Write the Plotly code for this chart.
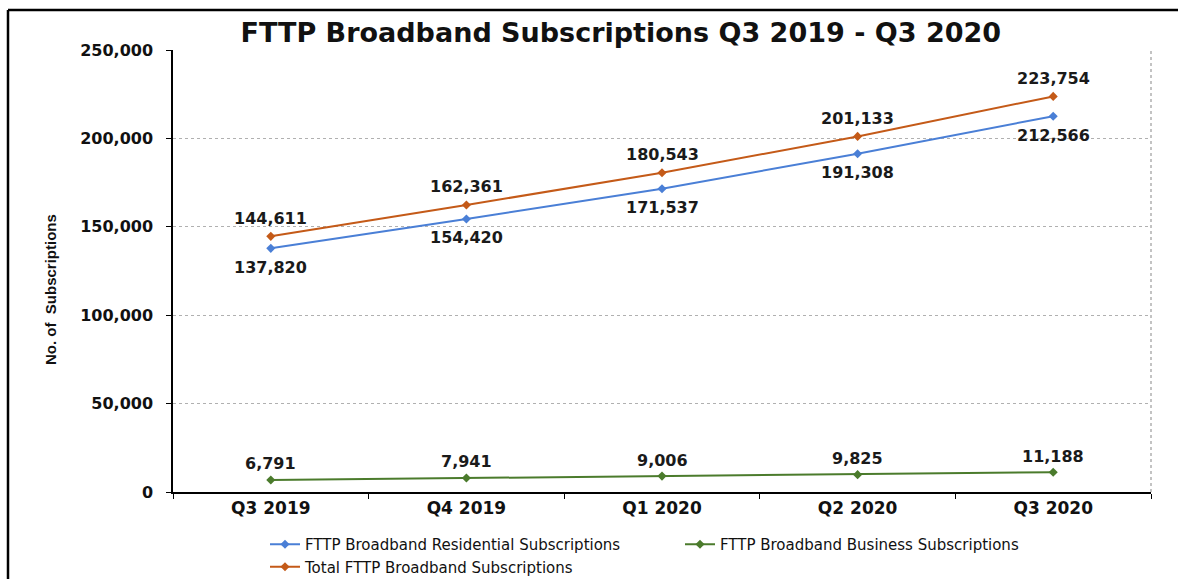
import plotly.graph_objects as go

quarters = ["Q3 2019", "Q4 2019", "Q1 2020", "Q2 2020", "Q3 2020"]
residential = [137820, 154420, 171537, 191308, 212566]
business = [6791, 7941, 9006, 9825, 11188]
total = [144611, 162361, 180543, 201133, 223754]
y_ticks = [0, 50000, 100000, 150000, 200000, 250000]

BLUE = "#4A7FD6"
GREEN = "#4B7B2C"
ORANGE = "#C45A18"
LBL_FONT = dict(family="DejaVu Sans", size=16, color="#1a1a1a", weight="bold")

fig = go.Figure()
series = [
    ("FTTP Broadband Residential Subscriptions", residential, BLUE, -19),
    ("FTTP Broadband Business Subscriptions", business, GREEN, 16),
    ("Total FTTP Broadband Subscriptions", total, ORANGE, 18),
]
annotations = []
for name, vals, col, shift in series:
    fig.add_trace(go.Scatter(
        x=quarters, y=vals, name=name, mode="lines+markers",
        line=dict(color=col, width=2),
        marker=dict(symbol="diamond", size=7, color=col)))
    for q, v in zip(quarters, vals):
        annotations.append(dict(x=q, y=v, text=f"{v:,}", showarrow=False,
                                xref="x", yref="y", yshift=shift,
                                xanchor="center", yanchor="middle", font=LBL_FONT))

annotations.append(dict(text="<b>No. of  Subscriptions</b>", textangle=-90,
                        xref="paper", yref="paper", x=(50 - 173) / 978, y=(492 - 290) / 442,
                        xanchor="center", yanchor="middle", showarrow=False,
                        font=dict(family="Liberation Sans", size=15, color="#111111")))

fig.update_layout(
    width=1178, height=579,
    margin=dict(l=173, r=27, t=50, b=87, autoexpand=False),
    paper_bgcolor="white", plot_bgcolor="white",
    title=dict(text="FTTP Broadband Subscriptions Q3 2019 - Q3 2020",
               x=0.527, xanchor="center", y=1 - 33 / 579, yanchor="middle",
               font=dict(family="DejaVu Sans", size=27, color="#111111", weight="bold")),
    font=dict(family="DejaVu Sans", color="#111111"),
    showlegend=True,
    legend=dict(orientation="h", x=(265 - 173) / 978, xanchor="left",
                y=(492 - 528) / 442, yanchor="top",
                font=dict(family="DejaVu Sans", size=15, color="#111111"),
                entrywidth=370, entrywidthmode="pixels",
                tracegroupgap=0, itemwidth=30, bgcolor="rgba(0,0,0,0)"),
    xaxis=dict(type="category", range=[-0.5, 4.5], showgrid=False,
               showline=True, linecolor="black", linewidth=1.5,
               ticks="outside", tickson="boundaries", ticklen=5, tickcolor="black",
               tickfont=dict(family="DejaVu Sans", size=17, color="#111111", weight="bold"),
               zeroline=False),
    yaxis=dict(range=[0, 250000], tickvals=y_ticks, tickformat=",",
               showgrid=True, gridcolor="#B0B0B0", griddash="dot", gridwidth=1,
               showline=True, linecolor="black", linewidth=1.5,
               ticks="outside", ticklen=5, tickcolor="black", ticklabelstandoff=10,
               tickfont=dict(family="DejaVu Sans", size=16, color="#111111", weight="bold"),
               zeroline=False),
    annotations=annotations,
    shapes=[
        dict(type="line", xref="paper", yref="paper", x0=1, x1=1, y0=0, y1=1,
             line=dict(color="#B0B0B0", width=1.5, dash="dot")),
        dict(type="line", xref="paper", yref="paper", x0=(8 - 173) / 978, x1=(8 - 173) / 978,
             y0=(492 - 10) / 442, y1=-0.3, line=dict(color="black", width=2.5)),
        dict(type="line", xref="paper", yref="paper", x0=(8 - 173) / 978, x1=1.2,
             y0=(492 - 10) / 442, y1=(492 - 10) / 442, line=dict(color="black", width=2.5)),
    ],
)

fig.write_html("out.html", config={"displayModeBar": False},
               post_script="document.body.style.margin='0';")
